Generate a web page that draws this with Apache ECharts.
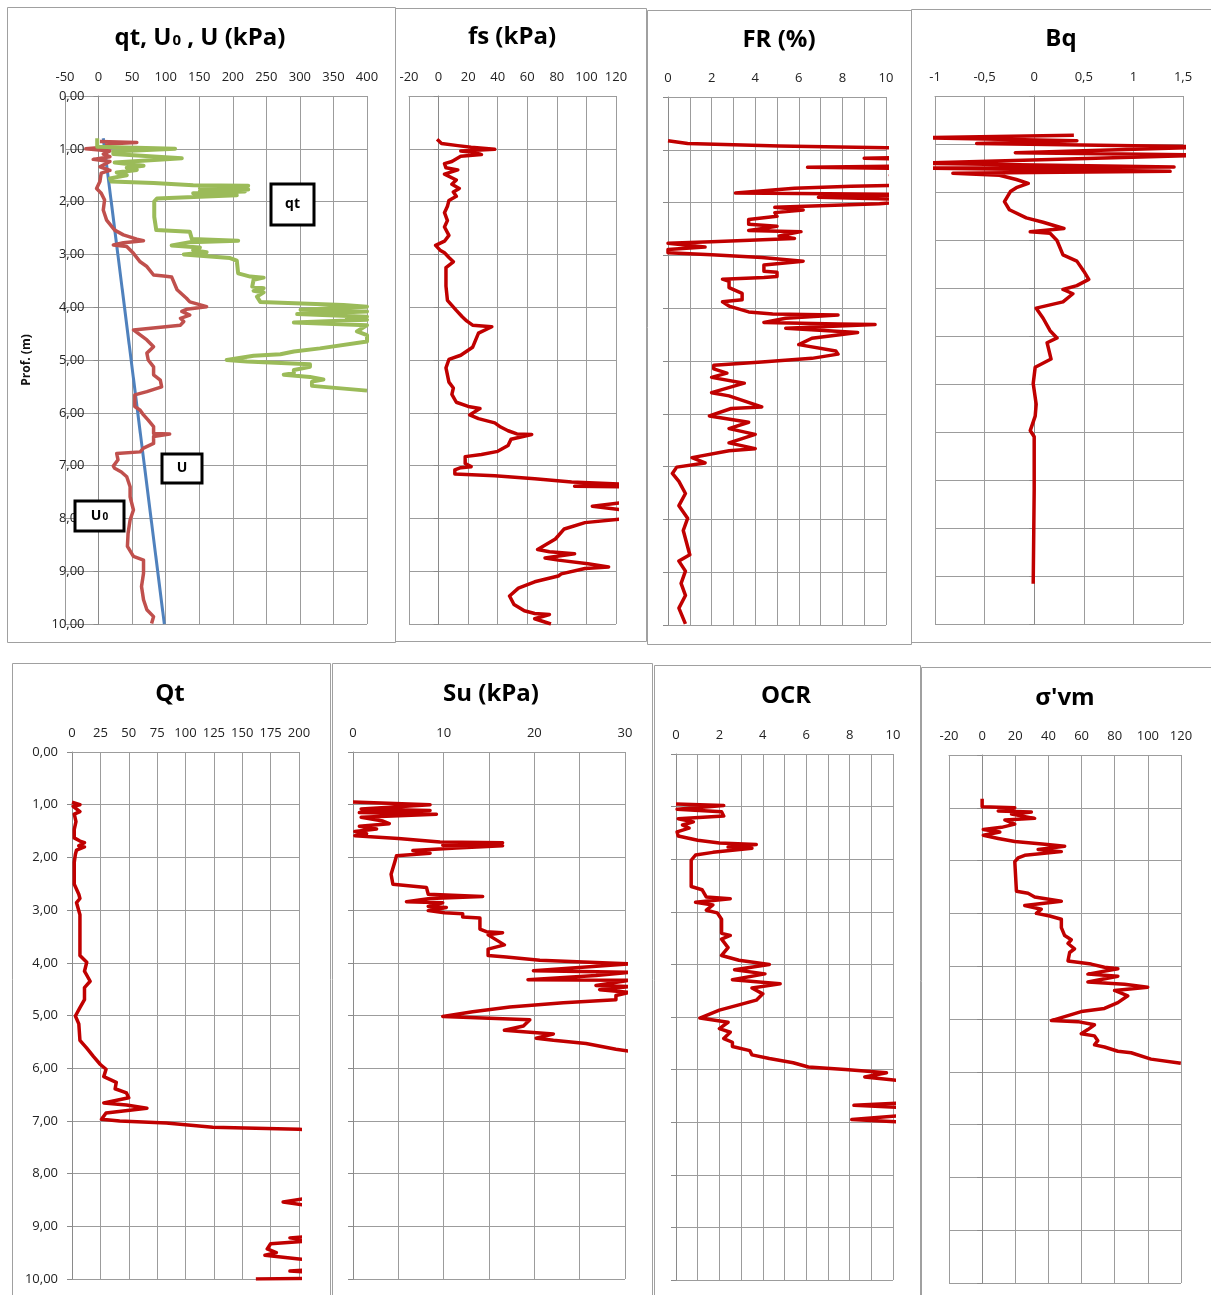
<!DOCTYPE html>
<html><head><meta charset="utf-8">
<script src="https://cdn.jsdelivr.net/npm/echarts@6/dist/echarts.min.js"></script>
<style>html,body{margin:0;padding:0;background:#fff}#c{width:1211px;height:1295px}</style>
</head><body><div id="c"></div>
<script>
// ---------- DATA: [depth (m), value] ----------
const uLineProfile = [[0.80,7],[10.0,98]];
const u0Profile = [[0.86,2],[0.88,57],[0.91,12],[0.96,17],[1.00,-19],[1.04,17],[1.10,7],[1.15,17],[1.20,-8],[1.24,17],[1.34,2],[1.41,17],[1.46,4],[1.62,2],[1.75,-3],[1.84,4],[1.97,9],[2.16,7],[2.35,12],[2.54,24],[2.63,37],[2.71,57],[2.74,67],[2.78,37],[2.82,22],[2.85,42],[2.98,52],[3.14,62],[3.23,72],[3.39,82],[3.41,97],[3.43,109],[3.67,117],[3.83,131],[3.90,136],[3.99,161],[4.04,131],[4.08,124],[4.15,136],[4.21,122],[4.27,127],[4.34,122],[4.43,52],[4.62,72],[4.75,82],[4.87,72],[5.00,74],[5.13,82],[5.28,82],[5.38,92],[5.51,94],[5.60,72],[5.66,54],[5.88,54],[5.95,62],[6.04,67],[6.14,74],[6.26,82],[6.39,82],[6.40,106],[6.45,82],[6.58,82],[6.67,67],[6.74,62],[6.77,27],[6.89,29],[7.01,22],[7.05,24],[7.12,34],[7.21,42],[7.40,47],[7.59,47],[7.84,52],[8.03,47],[8.28,44],[8.53,43],[8.72,52],[8.79,67],[9.04,67],[9.29,64],[9.54,67],[9.73,72],[9.86,82],[9.99,79]];
const qtProfile = [[0.80,-2],[0.96,-2],[1.00,114],[1.05,22],[1.10,22],[1.18,124],[1.26,24],[1.32,67],[1.36,42],[1.40,57],[1.45,27],[1.50,42],[1.56,17],[1.62,19],[1.65,82],[1.69,141],[1.70,223],[1.74,151],[1.77,223],[1.80,151],[1.81,218],[1.84,141],[1.88,206],[1.94,87],[2.00,83],[2.29,83],[2.54,86],[2.57,136],[2.71,139],[2.74,208],[2.77,136],[2.83,109],[2.87,151],[2.92,141],[2.96,161],[3.00,127],[3.07,196],[3.12,206],[3.36,208],[3.42,226],[3.44,246],[3.48,231],[3.61,229],[3.64,246],[3.69,231],[3.72,246],[3.80,236],[3.90,241],[3.96,365],[3.99,400],[4.05,301],[4.08,400],[4.13,296],[4.18,400],[4.21,370],[4.24,400],[4.29,291],[4.34,400],[4.37,400],[4.46,385],[4.53,400],[4.65,400],[4.78,330],[4.84,291],[4.89,271],[4.92,231],[5.00,191],[5.03,221],[5.08,315],[5.13,315],[5.19,291],[5.25,291],[5.28,276],[5.32,315],[5.37,335],[5.41,318],[5.49,318],[5.58,400]];
const fsProfile = [[0.82,-1],[0.90,2],[0.94,13],[0.97,22],[1.01,38],[1.04,15],[1.07,24],[1.11,29],[1.14,15],[1.24,9],[1.28,4],[1.36,5],[1.40,13],[1.48,4],[1.59,12],[1.67,9],[1.75,14],[1.82,10],[1.90,12],[1.98,7],[2.09,6],[2.21,4],[2.36,6],[2.48,4],[2.64,7],[2.75,4],[2.83,-2],[2.92,1],[2.97,4],[3.06,7],[3.14,10],[3.25,5],[3.60,5],[3.87,6],[4.06,12],[4.18,16],[4.26,19],[4.34,23],[4.37,36],[4.49,27],[4.76,23],[4.91,15],[4.99,7],[5.15,5],[5.42,7],[5.53,10],[5.65,9],[5.80,12],[5.88,20],[5.92,28],[6.04,21],[6.11,27],[6.19,38],[6.27,42],[6.34,47],[6.40,53],[6.41,63],[6.50,49],[6.62,47],[6.73,40],[6.79,29],[6.83,18],[6.96,18],[7.02,22],[7.04,15],[7.08,11],[7.16,11],[7.19,38],[7.25,65],[7.31,90],[7.33,106],[7.35,125],[7.39,92],[7.40,125],[7.70,125],[7.77,104],[7.84,125],[8.01,125],[8.08,99],[8.20,85],[8.39,79],[8.59,67],[8.63,75],[8.67,92],[8.75,72],[8.79,81],[8.86,101],[8.92,115],[8.95,99],[9.05,83],[9.09,81],[9.20,65],[9.32,54],[9.47,48],[9.63,51],[9.75,58],[9.80,65],[9.82,75],[9.90,65],[10.0,76]];
const frProfile = [[0.83,0.0],[0.88,0.9],[0.93,5.1],[0.96,10.0],[1.00,12],[1.14,12],[1.16,9.0],[1.18,12],[1.30,12],[1.33,6.4],[1.36,12],[1.46,12],[1.48,10.2],[1.50,12],[1.66,12],[1.69,8.4],[1.73,5.8],[1.82,3.1],[1.85,12],[1.90,6.9],[1.95,12],[2.02,9.7],[2.09,4.9],[2.14,6.2],[2.19,4.9],[2.26,5.0],[2.32,3.7],[2.41,3.7],[2.45,5.0],[2.53,3.7],[2.55,6.1],[2.63,5.1],[2.68,5.8],[2.74,2.0],[2.77,0.0],[2.84,1.7],[2.89,0.0],[2.95,0.0],[2.99,2.0],[3.04,4.3],[3.11,6.2],[3.18,4.4],[3.30,4.4],[3.32,5.0],[3.40,5.0],[3.42,4.4],[3.45,2.5],[3.49,2.8],[3.61,2.8],[3.72,3.4],[3.84,3.4],[3.88,2.5],[3.96,2.8],[4.07,3.7],[4.11,4.8],[4.13,7.8],[4.19,5.4],[4.27,4.4],[4.30,7.8],[4.31,9.5],[4.38,5.4],[4.46,8.7],[4.57,6.6],[4.69,6.0],[4.81,7.7],[4.87,7.8],[4.95,6.6],[5.02,4.3],[5.08,2.1],[5.15,2.1],[5.23,2.7],[5.31,2.0],[5.42,3.5],[5.60,2.0],[5.66,2.8],[5.87,4.3],[5.90,2.9],[6.04,1.9],[6.16,3.7],[6.28,2.8],[6.39,4.0],[6.55,2.8],[6.66,4.0],[6.70,2.8],[6.83,1.1],[6.93,1.7],[7.01,0.4],[7.13,0.2],[7.28,0.5],[7.51,0.8],[7.74,0.5],[7.98,0.9],[8.21,0.7],[8.67,1.0],[8.79,0.5],[8.98,0.8],[9.21,0.6],[9.44,0.8],[9.68,0.5],[9.98,0.8]];
const bqProfile = [[0.82,0.40],[0.87,-1.2],[0.93,0.43],[0.99,-0.58],[1.06,1.8],[1.18,-0.19],[1.23,1.8],[1.27,1.8],[1.40,-1.2],[1.48,1.41],[1.50,-1.2],[1.57,1.37],[1.61,-0.82],[1.65,-0.35],[1.74,-0.18],[1.82,-0.06],[1.86,-0.04],[1.91,-0.18],[1.99,-0.24],[2.20,-0.30],[2.37,-0.25],[2.54,-0.08],[2.63,0.09],[2.76,0.30],[2.83,-0.04],[2.86,0.16],[3.01,0.23],[3.31,0.29],[3.44,0.43],[3.65,0.50],[3.82,0.55],[3.95,0.43],[4.03,0.29],[4.12,0.39],[4.29,0.29],[4.42,0.02],[4.63,0.09],[4.89,0.16],[5.04,0.23],[5.14,0.13],[5.48,0.17],[5.65,0.01],[5.99,-0.01],[6.42,0.02],[6.67,0.01],[6.97,-0.04],[7.10,0.0],[8.20,0.0],[10.16,-0.01]];
const QtProfile = [[0.95,0],[1.00,7],[1.03,1],[1.13,7],[1.18,2],[1.32,3.5],[1.47,2],[1.63,2],[1.69,7],[1.72,11],[1.78,6],[1.80,11],[1.86,4],[1.94,3],[2.09,2],[2.51,2],[2.70,6],[2.78,7],[2.86,4],[3.09,7],[3.47,7],[3.86,7],[3.99,13],[4.16,11],[4.35,16],[4.47,11],[4.70,11],[4.85,7],[5.01,3],[5.16,6],[5.47,7],[5.62,13],[5.78,19],[5.93,25],[6.02,30],[6.16,28],[6.27,39],[6.39,38],[6.47,48],[6.56,50],[6.66,28],[6.70,48],[6.76,66],[6.85,30],[6.97,26],[7.00,42],[7.04,83],[7.12,124],[7.16,200],[7.20,230],[7.80,230],[8.44,215],[8.54,186],[8.63,215],[9.18,215],[9.22,192],[9.28,210],[9.33,175],[9.43,172],[9.50,180],[9.55,170],[9.62,200],[9.66,215],[9.82,215],[9.85,192],[9.88,215],[9.99,215],[10.0,162]];
const suProfile = [[0.95,0],[1.00,8.5],[1.08,0.9],[1.11,8.5],[1.15,0.7],[1.18,9.2],[1.24,0.9],[1.31,3.3],[1.36,4.0],[1.41,0.7],[1.46,2.6],[1.51,0.2],[1.55,1.5],[1.59,0.2],[1.64,5.0],[1.71,9.6],[1.72,16.5],[1.77,9.9],[1.78,16.5],[1.82,11.4],[1.87,6.6],[1.92,8.5],[1.97,4.8],[2.09,4.6],[2.32,4.2],[2.51,4.4],[2.57,8.1],[2.70,8.3],[2.74,14.3],[2.78,8.5],[2.84,5.9],[2.86,9.9],[2.93,8.3],[2.95,10.3],[3.01,8.3],[3.05,10.1],[3.07,12.1],[3.13,12.1],[3.15,14.0],[3.36,14.0],[3.41,14.7],[3.43,16.5],[3.47,14.9],[3.66,16.7],[3.74,14.9],[3.86,14.9],[3.89,16.9],[3.95,20.6],[3.99,26.1],[4.02,30.5],[4.15,19.9],[4.18,30.5],[4.24,26.8],[4.32,19.3],[4.33,30.5],[4.43,26.8],[4.45,30.5],[4.51,27.2],[4.56,30.5],[4.62,29.0],[4.70,29.0],[4.76,23.2],[4.84,17.3],[4.93,13.2],[5.02,9.9],[5.08,19.5],[5.20,18.8],[5.28,16.7],[5.31,18.8],[5.35,22.1],[5.43,20.2],[5.47,22.1],[5.53,25.7],[5.64,29.0],[5.68,30.5]];
const ocrProfile = [[0.95,0],[0.98,2.2],[1.05,0.05],[1.10,2.1],[1.18,2.2],[1.23,0.1],[1.29,0.8],[1.35,0.3],[1.41,0.6],[1.48,0.05],[1.56,0.1],[1.64,1.0],[1.69,2.0],[1.72,3.7],[1.77,2.4],[1.79,3.5],[1.87,1.7],[1.92,0.9],[2.02,0.7],[2.52,0.7],[2.58,1.2],[2.72,1.4],[2.75,2.5],[2.82,0.9],[2.87,1.7],[2.97,1.4],[3.02,1.9],[3.14,2.1],[3.41,2.1],[3.45,2.5],[3.52,2.1],[3.68,2.4],[3.83,2.1],[3.92,2.9],[4.00,4.3],[4.10,2.7],[4.18,4.1],[4.29,2.6],[4.37,4.8],[4.45,3.5],[4.56,4.0],[4.68,3.7],[4.77,2.9],[4.87,2.0],[5.02,1.1],[5.10,2.4],[5.22,2.0],[5.29,2.5],[5.41,2.2],[5.48,2.6],[5.56,2.6],[5.64,3.4],[5.72,3.5],[5.79,4.3],[5.87,5.4],[5.95,6.1],[6.00,7.8],[6.06,9.7],[6.14,8.7],[6.22,10.5],[6.40,12],[6.63,10.5],[6.68,8.2],[6.72,10.5],[6.87,10.5],[6.95,8.1],[7.00,10.5]];
const svmProfile = [[0.83,0],[0.98,0],[1.00,19.7],[1.06,9.7],[1.08,29.7],[1.12,17.7],[1.20,31.7],[1.23,13.7],[1.31,19.7],[1.37,11.7],[1.41,0.7],[1.46,10.7],[1.52,0.7],[1.58,9.7],[1.64,19.7],[1.69,37.8],[1.73,49.8],[1.79,33.8],[1.83,47.8],[1.90,25.7],[1.95,21.7],[2.02,19.7],[2.58,20.7],[2.62,27.7],[2.69,31.7],[2.77,47.8],[2.85,25.7],[2.92,35.7],[3.00,32.7],[3.05,40.8],[3.11,47.8],[3.27,47.8],[3.42,49.8],[3.50,53.8],[3.57,51.8],[3.67,55.8],[3.74,52.8],[3.90,51.8],[3.96,65.8],[4.02,73.8],[4.05,81.9],[4.15,63.8],[4.19,81.9],[4.30,63.8],[4.34,85.9],[4.40,99.9],[4.46,79.9],[4.56,87.9],[4.69,81.9],[4.80,73.8],[4.86,59.8],[5.03,41.8],[5.05,57.8],[5.11,67.8],[5.20,63.8],[5.28,59.8],[5.32,67.8],[5.41,69.8],[5.49,67.8],[5.53,73.8],[5.61,81.9],[5.64,89.9],[5.76,101.9],[5.84,119.9]];

// ---------- LAYOUT ----------
const GRIDC = '#9c9c9c';
const RED = '#c00000';
const FONT = '"Open Sans", "DejaVu Sans", sans-serif';
const comma = v => String(v).replace('.', ',');

const panels = [
  {g:[65,96,302,528],  x:[-50,400,50],  ymax:10, ylab:true,  xf: v=>v},
  {g:[409,96,207,528], x:[-20,120,20],  ymax:10, ylab:false, xf: v=>v},
  {g:[668,97,218,528], x:[0,10,1],      ymax:10, ylab:false, xf: v=> v%2===0? v : ''},
  {g:[935,96,248,528], x:[-1,1.5,0.5],  ymax:11, ylab:false, xf: comma},
  {g:[72,752,227,527], x:[0,200,25],    ymax:10, ylab:true,  xf: v=>v},
  {g:[353,752,272,527],x:[0,30,5],      ymax:10, ylab:false, xf: v=> v%10===0? v : ''},
  {g:[676,754,217,526],x:[0,10,1],      ymax:10, ylab:false, xf: v=> v%2===0? v : ''},
  {g:[949,755,232,528],x:[-20,120,20],  ymax:10, ylab:false, xf: v=>v}
];

const grid = panels.map(p => ({left:p.g[0], top:p.g[1], width:p.g[2], height:p.g[3], containLabel:false, outerBoundsMode:'none'}));
const xAxis = panels.map((p,i) => ({
  type:'value', gridIndex:i, position:'top', min:p.x[0], max:p.x[1], interval:p.x[2],
  axisLine:{show:true, onZero:false, lineStyle:{color:GRIDC}}, axisTick:{show:false},
  axisLabel:{margin:12, color:'#222', fontSize:13, fontFamily:FONT, formatter:p.xf, showMinLabel:true, showMaxLabel:true},
  splitLine:{show:true, lineStyle:{color:GRIDC, width:1}}
}));
// vertical axis crosses the horizontal scale at value 0 (as in the source workbook)
const yAxis = panels.map((p,i) => ({
  type:'value', gridIndex:i, inverse:true, min:0, max:p.ymax, interval:1, position:'left',
  offset: p.x[0] < 0 ? -(-p.x[0])/(p.x[1]-p.x[0]) * p.g[2] : 0,
  axisLine:{show:true, onZero:false, lineStyle:{color:'#8a8a8a'}},
  axisTick:{show:true, length:5, lineStyle:{color:'#8a8a8a'}},
  axisLabel:{show:p.ylab, margin:14, color:'#222', fontSize:13, fontFamily:FONT,
    formatter: v => v.toFixed(2).replace('.', ',')},
  splitLine:{show:true, lineStyle:{color:GRIDC, width:1}},
  name: i===0 ? 'Prof. (m)' : '', nameLocation:'middle', nameRotate:90, nameGap:66,
  nameTextStyle:{fontWeight:'bold', fontSize:12, fontFamily:FONT, color:'#111'}
}));

const mk = (profile, idx, color, width) => ({
  type:'line', xAxisIndex:idx, yAxisIndex:idx, showSymbol:false, symbol:'none', clip:true,
  data: profile.map(d => [d[1], d[0]]), lineStyle:{color:color, width:width, join:'round'}, silent:true, animation:false
});

const series = [
  mk(uLineProfile, 0, '#4f81bd', 3),
  mk(u0Profile, 0, '#c0504d', 3.5),
  mk(qtProfile, 0, '#9bbb59', 4),
  mk(fsProfile, 1, RED, 3.5),
  mk(frProfile, 2, RED, 3.5),
  mk(bqProfile, 3, RED, 3.5),
  mk(QtProfile, 4, RED, 3.5),
  mk(suProfile, 5, RED, 3.5),
  mk(ocrProfile, 6, RED, 3.5),
  mk(svmProfile, 7, RED, 3.5)
];

// panel frames, titles, annotation boxes
const frames = [[7,7,388,635],[395,8,251,633],[647,10,264,634],[911,9,300,633],
                [12,663,318,640],[332,663,320,640],[654,665,266,640],[921,667,290,640]];
const TF = 'bold 24px ' + FONT;
const titles = [
  {x:200, y:38, text:'{a|qt, U}{b|0}{a| , U (kPa)}'},
  {x:512, y:37, text:'{a|fs (kPa)}'},
  {x:779, y:40, text:'{a|FR (%)}'},
  {x:1061, y:39, text:'{a|Bq}'},
  {x:170, y:694, text:'{a|Qt}'},
  {x:491, y:694, text:'{a|Su (kPa)}'},
  {x:786, y:696, text:'{a|OCR}'},
  {x:1065, y:698, text:"{a|σ'vm}"}
];
const rich = {a:{font:TF, fill:'#000', verticalAlign:'bottom'}, b:{font:'bold 15px '+FONT, fill:'#000', verticalAlign:'bottom', padding:[0,0,2,1]}};
const graphic = [];
frames.forEach(f => graphic.push({type:'rect', shape:{x:f[0]+0.5,y:f[1]+0.5,width:f[2],height:f[3]}, style:{fill:null, stroke:'#a0a0a0', lineWidth:1}, z:1, silent:true}));
titles.forEach(t => graphic.push({type:'text', x:t.x, y:t.y, style:{text:t.text, rich:rich, align:'center', verticalAlign:'middle'}, z:10, silent:true}));
const boxes = [
  {x:271, y:184, w:43, h:41, text:'{c|qt}'},
  {x:162, y:454, w:40, h:29, text:'{c|U}'},
  {x:75, y:501, w:49, h:30, text:'{c|U}{d|0}'}
];
const brich = {c:{font:'bold 14px '+FONT, fill:'#000', verticalAlign:'bottom'}, d:{font:'bold 10px '+FONT, fill:'#000', verticalAlign:'bottom', padding:[0,0,1,1]}};
boxes.forEach(b => {
  graphic.push({type:'rect', shape:{x:b.x,y:b.y,width:b.w,height:b.h}, style:{fill:'#fff', stroke:'#000', lineWidth:3}, z:20, silent:true});
  graphic.push({type:'text', x:b.x+b.w/2, y:b.y+b.h/2, style:{text:b.text, rich:brich, align:'center', verticalAlign:'middle'}, z:21, silent:true});
});

const chart = echarts.init(document.getElementById('c'));
chart.setOption({animation:false, backgroundColor:'#fff', grid, xAxis, yAxis, series, graphic});
</script></body></html>
